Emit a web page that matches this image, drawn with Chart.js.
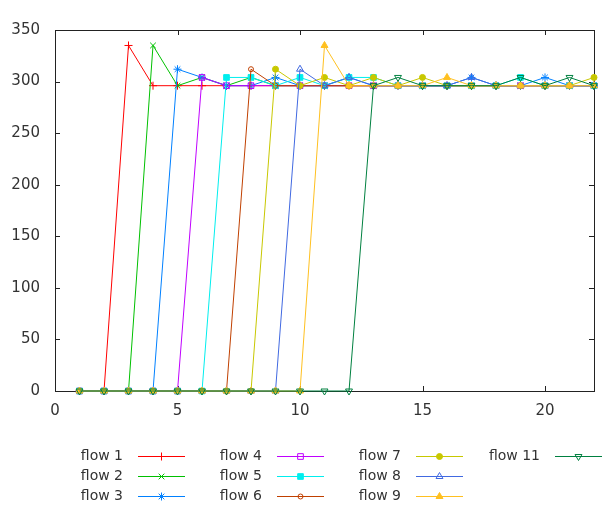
<!DOCTYPE html>
<html>
<head>
<meta charset="utf-8">
<script src="https://cdn.jsdelivr.net/npm/chart.js@4.4.1/dist/chart.umd.min.js"></script>
<style>
  html, body { margin: 0; padding: 0; background: #fff; }
</style>
</head>
<body>
<canvas id="myChart" width="616" height="507"></canvas>
<script>
const xValues = [1, 2, 3, 4, 5, 6, 7, 8, 9, 10, 11, 12, 13, 14, 15, 16, 17, 18, 19, 20, 21, 22];

const flow1 = [0, 0, 335, 296, 296, 296, 296, 296, 296, 296, 296, 296, 296, 296, 296, 296, 296, 296, 296, 296, 296, 296];
const flow2 = [0, 0, 0, 335, 296, 304, 296, 304, 296, 296, 296, 296, 296, 296, 296, 296, 296, 296, 296, 296, 296, 296];
const flow3 = [0, 0, 0, 0, 312, 304, 296, 296, 304, 296, 296, 304, 296, 296, 296, 296, 304, 296, 296, 304, 296, 296];
const flow4 = [0, 0, 0, 0, 0, 304, 296, 296, 296, 296, 296, 296, 296, 296, 296, 296, 296, 296, 296, 296, 296, 296];
const flow5 = [0, 0, 0, 0, 0, 0, 304, 304, 296, 304, 296, 304, 304, 296, 296, 296, 296, 296, 304, 296, 296, 296];
const flow6 = [0, 0, 0, 0, 0, 0, 0, 312, 296, 296, 296, 296, 296, 296, 296, 296, 296, 296, 296, 296, 296, 296];
const flow7 = [0, 0, 0, 0, 0, 0, 0, 0, 312, 296, 304, 296, 304, 296, 304, 296, 296, 296, 296, 296, 296, 304];
const flow8 = [0, 0, 0, 0, 0, 0, 0, 0, 0, 312, 296, 304, 296, 296, 296, 296, 304, 296, 296, 296, 296, 296];
const flow9 = [0, 0, 0, 0, 0, 0, 0, 0, 0, 0, 335, 296, 296, 296, 296, 304, 296, 296, 296, 296, 296, 296];
const flow11 = [0, 0, 0, 0, 0, 0, 0, 0, 0, 0, 0, 0, 296, 304, 296, 296, 296, 296, 304, 296, 304, 296];

const seriesNames = ["flow 1", "flow 2", "flow 3", "flow 4", "flow 5", "flow 6", "flow 7", "flow 8", "flow 9", "flow 11"];
const seriesValues = [flow1, flow2, flow3, flow4, flow5, flow6, flow7, flow8, flow9, flow11];
const xTicks = [0, 5, 10, 15, 20];
const yTicks = [0, 50, 100, 150, 200, 250, 300, 350];

// gnuplot-like line colours and point types
const colors = ["#ff0000", "#00c000", "#0080ff", "#c000ff", "#00eeee", "#c04000", "#c8c800", "#4169e1", "#ffc020", "#008040"];
const markers = [
  { style: "cross", fill: false, r: 4, rot: 0 },
  { style: "crossRot", fill: false, r: 4, rot: 0 },
  { style: "star", fill: false, r: 4, rot: 0 },
  { style: "rect", fill: false, r: 4, rot: 0 },
  { style: "rect", fill: true, r: 4, rot: 0 },
  { style: "circle", fill: false, r: 2.5, rot: 0 },
  { style: "circle", fill: true, r: 3, rot: 0 },
  { style: "triangle", fill: false, r: 4, rot: 0 },
  { style: "triangle", fill: true, r: 4, rot: 0 },
  { style: "triangle", fill: false, r: 4, rot: 180 },
];

const FONT = "DejaVu Sans";
const TEXT = "#333333";

const datasets = seriesNames.map((name, i) => ({
  label: name,
  data: xValues.map((x, j) => ({ x: x, y: seriesValues[i][j] })),
  borderColor: colors[i],
  borderWidth: 1,
  pointStyle: markers[i].style,
  pointRotation: markers[i].rot,
  pointRadius: markers[i].r,
  pointBorderWidth: 1,
  pointBorderColor: colors[i],
  pointBackgroundColor: markers[i].fill ? colors[i] : "rgba(0,0,0,0)",
  tension: 0,
  clip: false,
  order: seriesNames.length - i,
}));

const framePlugin = {
  id: "frame",
  beforeDatasetsDraw(chart) {
    const { ctx, chartArea: a, scales } = chart;
    ctx.save();
    ctx.strokeStyle = "#222";
    ctx.lineWidth = 1;
    ctx.beginPath();
    xTicks.forEach((v) => {
      const px = Math.round(scales.x.getPixelForValue(v)) + 0.5;
      ctx.moveTo(px, a.bottom); ctx.lineTo(px, a.bottom - 5);
      ctx.moveTo(px, a.top); ctx.lineTo(px, a.top + 5);
    });
    yTicks.forEach((v) => {
      const py = Math.round(scales.y.getPixelForValue(v)) + 0.5;
      ctx.moveTo(a.left, py); ctx.lineTo(a.left + 5, py);
      ctx.moveTo(a.right, py); ctx.lineTo(a.right - 5, py);
    });
    ctx.stroke();
    ctx.strokeRect(Math.round(a.left) + 0.5, Math.round(a.top) + 0.5, Math.round(a.right - a.left), Math.round(a.bottom - a.top));
    ctx.restore();
  },
};

const keyPlugin = {
  id: "key",
  afterDraw(chart) {
    const ctx = chart.ctx;
    ctx.save();
    ctx.font = "14px '" + FONT + "'";
    ctx.textAlign = "right";
    ctx.textBaseline = "middle";
    seriesNames.forEach((name, i) => {
      const col = Math.floor(i / 3);
      const row = i % 3;
      const y = 456 + row * 20;
      const tx = 123 + col * 139;
      ctx.fillStyle = TEXT;
      ctx.fillText(name, tx, y);
      const x0 = 138 + col * 139, x1 = 185 + col * 139;
      ctx.strokeStyle = colors[i];
      ctx.lineWidth = 1;
      ctx.beginPath();
      ctx.moveTo(x0, y + 0.5); ctx.lineTo(x1, y + 0.5);
      ctx.stroke();
      ctx.fillStyle = markers[i].fill ? colors[i] : "rgba(0,0,0,0)";
      Chart.helpers.drawPoint(ctx, {
        pointStyle: markers[i].style,
        rotation: markers[i].rot,
        radius: markers[i].r,
        borderWidth: 1,
      }, (x0 + x1) / 2, y + 0.5);
    });
    ctx.restore();
  },
};

new Chart(document.getElementById("myChart"), {
  type: "line",
  data: { datasets: datasets },
  options: {
    responsive: false,
    animation: false,
    devicePixelRatio: 1,
    layout: { padding: { left: 0, right: 22, top: 30, bottom: 86 } },
    plugins: { legend: { display: false }, tooltip: { enabled: false } },
    scales: {
      x: {
        type: "linear",
        min: 0,
        max: 22,
        grid: { display: false, drawTicks: false },
        border: { display: false },
        ticks: {
          stepSize: 5,
          includeBounds: false,
          padding: 11,
          color: TEXT,
          font: { family: FONT, size: 15 },
          maxRotation: 0,
        },
        afterFit(scale) { scale.height = 30; },
      },
      y: {
        min: 0,
        max: 350,
        grid: { display: false, drawTicks: false },
        border: { display: false },
        ticks: {
          stepSize: 50,
          padding: 15,
          color: TEXT,
          font: { family: FONT, size: 15 },
        },
        afterFit(scale) { scale.width = 55; },
      },
    },
  },
  plugins: [framePlugin, keyPlugin],
});
</script>
</body>
</html>
